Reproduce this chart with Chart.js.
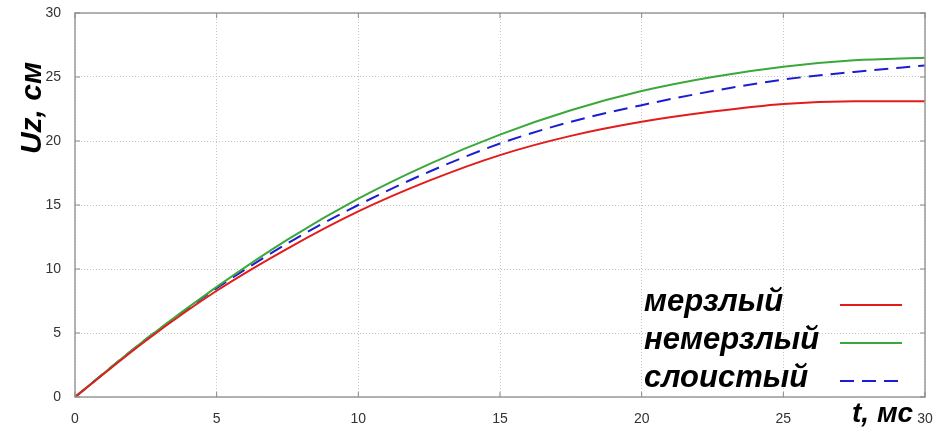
<!DOCTYPE html>
<html>
<head>
<meta charset="utf-8">
<script src="https://cdn.jsdelivr.net/npm/chart.js@4/dist/chart.umd.min.js"></script>
<style>
html,body{margin:0;padding:0;background:#fff;}
#wrap{width:941px;height:434px;position:relative;}
</style>
</head>
<body>
<div id="wrap"><canvas id="c" width="941" height="434"></canvas></div>
<script>
// Data
const timeMs = [0, 2.5, 5, 7.5, 10, 12.5, 15, 17.5, 20, 22.5, 25, 27.5, 30];
const frozen = [0, 4.4, 8.3, 11.6, 14.5, 16.9, 18.9, 20.4, 21.5, 22.3, 22.9, 23.1, 23.1];
const unfrozen = [0, 4.5, 8.6, 12.3, 15.5, 18.2, 20.5, 22.4, 23.9, 25.0, 25.8, 26.3, 26.5];
const layered = [0, 4.5, 8.5, 12.0, 15.0, 17.6, 19.8, 21.5, 22.8, 23.9, 24.8, 25.4, 25.9];
const seriesLabels = ['мерзлый', 'немерзлый', 'слоистый'];
const yTitle = 'Uz, см';
const xTitle = 't, мс';
const xTicks = [0, 5, 10, 15, 20, 25, 30];
const yTicks = [0, 5, 10, 15, 20, 25, 30];

const colors = ['#e31b1b', '#3aa83a', '#1c1cd2'];
const dashes = [[], [], [14, 8]];

function pts(arr) { return timeMs.map((t, i) => ({x: t, y: arr[i]})); }

const datasets = [frozen, unfrozen, layered].map((arr, i) => ({
  label: seriesLabels[i],
  data: pts(arr),
  borderColor: colors[i],
  backgroundColor: colors[i],
  borderWidth: 2,
  borderDash: dashes[i],
  pointRadius: 0,
  cubicInterpolationMode: 'monotone',
  fill: false
}));

const decor = {
  id: 'decor',
  afterDatasetsDraw(chart) {
    const ctx = chart.ctx;
    const a = chart.chartArea;
    const xs = chart.scales.x, ys = chart.scales.y;
    ctx.save();
    // frame
    ctx.strokeStyle = '#9a9a9a';
    ctx.lineWidth = 1.5;
    ctx.strokeRect(a.left, a.top, a.right - a.left, a.bottom - a.top);
    // inner ticks
    ctx.lineWidth = 1;
    ctx.strokeStyle = '#888';
    ctx.beginPath();
    yTicks.forEach(v => {
      const y = ys.getPixelForValue(v);
      ctx.moveTo(a.left, y); ctx.lineTo(a.left + 5, y);
      ctx.moveTo(a.right, y); ctx.lineTo(a.right - 5, y);
    });
    xTicks.forEach(v => {
      const x = xs.getPixelForValue(v);
      ctx.moveTo(x, a.bottom); ctx.lineTo(x, a.bottom - 5);
      ctx.moveTo(x, a.top); ctx.lineTo(x, a.top + 5);
    });
    ctx.stroke();
    // legend
    ctx.font = 'italic bold 31px "Liberation Sans", Arial, sans-serif';
    ctx.fillStyle = '#000';
    ctx.textBaseline = 'middle';
    ctx.textAlign = 'left';
    const rowsY = [302, 340, 378];
    chart.data.datasets.forEach((ds, i) => {
      ctx.fillText(ds.label, 644, rowsY[i]);
      ctx.save();
      ctx.strokeStyle = ds.borderColor;
      ctx.lineWidth = 2;
      ctx.setLineDash(ds.borderDash);
      ctx.beginPath();
      ctx.moveTo(840, rowsY[i] + 3);
      ctx.lineTo(902, rowsY[i] + 3);
      ctx.stroke();
      ctx.restore();
    });
    // axis titles
    ctx.font = 'italic bold 28px "Liberation Sans", Arial, sans-serif';
    ctx.textAlign = 'left';
    ctx.textBaseline = 'alphabetic';
    ctx.fillText(xTitle, 852, 422);
    ctx.save();
    ctx.translate(41, 108);
    ctx.rotate(-Math.PI / 2);
    ctx.font = 'italic bold 30px "Liberation Sans", Arial, sans-serif';
    ctx.textAlign = 'center';
    ctx.fillText(yTitle, 0, 0);
    ctx.restore();
    ctx.restore();
  }
};

new Chart(document.getElementById('c'), {
  type: 'line',
  data: {datasets},
  options: {
    responsive: false,
    animation: false,
    layout: {padding: {top: 13, right: 16, left: 0, bottom: 0}},
    plugins: {legend: {display: false}, tooltip: {enabled: false}},
    scales: {
      x: {
        type: 'linear', min: 0, max: 30,
        afterBuildTicks(s) { s.ticks = xTicks.map(v => ({value: v})); },
        afterFit(s) { s.height = 37; s.paddingLeft = 0; s.paddingRight = 0; },
        grid: {color: '#c4c4c4', lineWidth: 1, drawTicks: false},
        border: {display: false, dash: [1, 2]},
        ticks: {padding: 14, color: '#333', font: {family: '"Liberation Sans", Arial, sans-serif', size: 14}, maxRotation: 0}
      },
      y: {
        type: 'linear', min: 0, max: 30,
        afterBuildTicks(s) { s.ticks = yTicks.map(v => ({value: v})); },
        afterFit(s) { s.width = 75; s.paddingTop = 0; s.paddingBottom = 0; },
        grid: {color: '#c4c4c4', lineWidth: 1, drawTicks: false},
        border: {display: false, dash: [1, 2]},
        ticks: {padding: 14, color: '#333', font: {family: '"Liberation Sans", Arial, sans-serif', size: 14}}
      }
    }
  },
  plugins: [decor]
});
</script>
</body>
</html>
